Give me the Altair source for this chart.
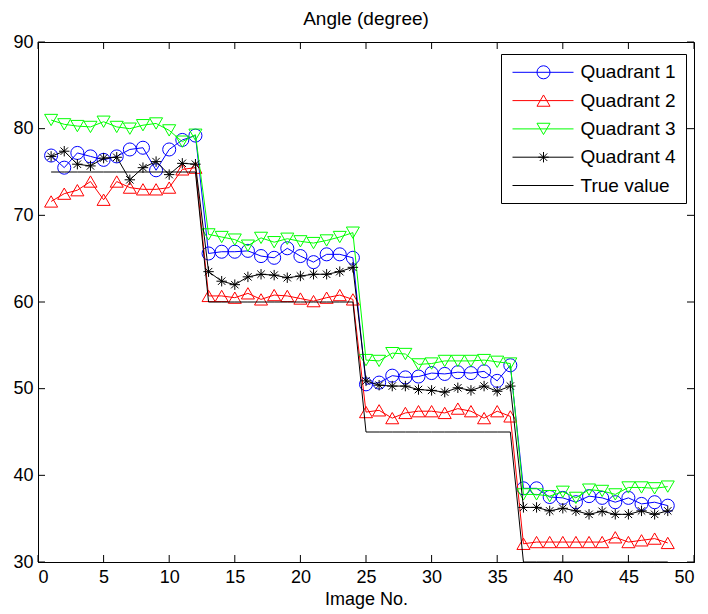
import altair as alt
import pandas as pd

image_no = list(range(1, 49))

quadrant_1 = [76.9, 75.5, 77.2, 76.8, 76.4, 76.8, 77.6, 77.8, 75.2, 77.6, 78.7, 79.2,
              65.6, 65.8, 65.8, 65.9, 65.3, 65.1, 66.2, 65.3, 64.6, 65.5, 65.5, 65.1,
              50.5, 50.7, 51.5, 51.3, 51.4, 51.8, 51.7, 51.9, 51.8, 52.0, 50.9, 52.7,
              38.5, 38.5, 37.5, 37.4, 36.9, 37.6, 37.4, 36.9, 37.4, 36.7, 36.9, 36.5]
quadrant_2 = [71.6, 72.5, 72.9, 73.9, 71.8, 73.9, 73.2, 73.0, 73.0, 73.2, 75.3, 75.5,
              60.7, 60.7, 60.5, 61.0, 60.3, 60.8, 60.7, 60.4, 60.1, 60.5, 60.8, 60.3,
              47.3, 47.5, 46.6, 47.2, 47.4, 47.4, 47.2, 47.7, 47.4, 46.6, 47.4, 46.8,
              32.1, 32.3, 32.3, 32.3, 32.3, 32.3, 32.3, 32.85, 32.3, 32.5, 32.7, 32.2]
quadrant_3 = [81.0, 80.5, 80.3, 80.2, 80.8, 80.2, 80.0, 80.4, 80.6, 79.8, 78.5, 79.3,
              67.8, 67.5, 67.2, 66.5, 67.4, 66.9, 67.3, 67.0, 66.8, 67.1, 67.5, 68.0,
              53.3, 53.2, 54.1, 54.0, 52.8, 52.9, 53.2, 53.2, 53.2, 53.3, 53.1, 52.9,
              37.8, 37.8, 37.6, 38.1, 37.4, 38.35, 38.2, 37.8, 38.6, 38.6, 38.5, 38.7]
quadrant_4 = [76.8, 77.4, 75.9, 75.7, 76.6, 76.7, 74.1, 75.5, 76.2, 74.7, 76.0, 75.9,
              63.5, 62.4, 62.0, 62.9, 63.2, 63.1, 62.8, 63.0, 63.2, 63.2, 63.5, 64.0,
              50.9, 50.4, 50.3, 50.3, 49.9, 49.8, 49.6, 50.1, 49.8, 50.3, 49.7, 50.3,
              36.3, 36.3, 35.9, 36.2, 35.9, 35.5, 35.85, 35.5, 35.5, 35.9, 35.5, 35.9]
true_value = [75, 75, 75, 75, 75, 75, 75, 75, 75, 75, 75, 75,
              60, 60, 60, 60, 60, 60, 60, 60, 60, 60, 60, 60,
              45, 45, 45, 45, 45, 45, 45, 45, 45, 45, 45, 45,
              30, 30, 30, 30, 30, 30, 30, 30, 30, 30, 30, 30]

series_names = ["Quadrant 1", "Quadrant 2", "Quadrant 3", "Quadrant 4", "True value"]
series_values = [quadrant_1, quadrant_2, quadrant_3, quadrant_4, true_value]
x_ticks = [0, 5, 10, 15, 20, 25, 30, 35, 40, 45, 50]
y_ticks = [30, 40, 50, 60, 70, 80, 90]

colors = ["#0000ff", "#ff0000", "#00ff00", "#000000", "#000000"]
ASTERISK = ("M-0.8,0L0.8,0M0,-0.8L0,0.8M-0.57,-0.57L0.57,0.57M-0.57,0.57L0.57,-0.57")
shapes = ["circle", "triangle-up", "triangle-down", ASTERISK]

FONT = "Liberation Sans"
W, H = 656, 520

rows = []
for name, vals in zip(series_names, series_values):
    for xi, yi in zip(image_no, vals):
        rows.append({"series": name, "x": xi, "y": yi})
df = pd.DataFrame(rows)

color_scale = alt.Scale(domain=series_names, range=colors)
shape_scale = alt.Scale(domain=series_names[:4], range=shapes)

x_enc = alt.X("x:Q", scale=alt.Scale(domain=[0, 50], nice=False),
              axis=alt.Axis(values=x_ticks, title="Image No.", format="d"))
y_enc = alt.Y("y:Q", scale=alt.Scale(domain=[30, 90], nice=False),
              axis=alt.Axis(values=y_ticks, title=None, format="d"))

layers = []
for name in series_names:
    sub = alt.Chart(df).transform_filter(alt.datum.series == name)
    layers.append(sub.mark_line(strokeWidth=1, clip=True).encode(
        x=x_enc, y=y_enc, color=alt.Color("series:N", scale=color_scale, legend=None),
        order="x:Q"))
    if name != "True value":
        layers.append(sub.mark_point(filled=False, size=170, strokeWidth=1, opacity=1, clip=True).encode(
            x=x_enc, y=y_enc,
            color=alt.Color("series:N", scale=color_scale, legend=None),
            shape=alt.Shape("series:N", scale=shape_scale, legend=None)))

# inward ticks (MATLAB style box)
xt = pd.DataFrame({"v": x_ticks})
yt = pd.DataFrame({"v": y_ticks})
layers.append(alt.Chart(xt).mark_rule(color="black", strokeWidth=1).encode(
    x=alt.X("v:Q"), y=alt.value(H), y2=alt.value(H - 7)))
layers.append(alt.Chart(xt).mark_rule(color="black", strokeWidth=1).encode(
    x=alt.X("v:Q"), y=alt.value(0), y2=alt.value(7)))
layers.append(alt.Chart(yt).mark_rule(color="black", strokeWidth=1).encode(
    y=alt.Y("v:Q"), x=alt.value(0), x2=alt.value(7)))
layers.append(alt.Chart(yt).mark_rule(color="black", strokeWidth=1).encode(
    y=alt.Y("v:Q"), x=alt.value(W), x2=alt.value(W - 7)))

# legend box
leg = pd.DataFrame({"series": series_names, "row": list(range(len(series_names)))})
box = alt.Chart(pd.DataFrame({"a": [0]})).mark_rect(fill="white", stroke="black", strokeWidth=1).encode(
    x=alt.value(463.5), x2=alt.value(648.5), y=alt.value(12.5), y2=alt.value(161.5))
legbase = alt.Chart(leg).transform_calculate(py="30.3 + datum.row * 28.3")
leg_lines = legbase.mark_rule(strokeWidth=1).encode(
    x=alt.value(474.5), x2=alt.value(535.5),
    y=alt.Y("py:Q", scale=None, axis=None),
    color=alt.Color("series:N", scale=color_scale, legend=None))
leg_points = legbase.transform_filter(alt.datum.series != "True value").mark_point(
    filled=False, size=170, strokeWidth=1, opacity=1).encode(
    x=alt.value(505.5),
    y=alt.Y("py:Q", scale=None, axis=None),
    color=alt.Color("series:N", scale=color_scale, legend=None),
    shape=alt.Shape("series:N", scale=shape_scale, legend=None))
leg_text = legbase.mark_text(align="left", baseline="middle", fontSize=19, font=FONT, color="black").encode(
    x=alt.value(542.5),
    y=alt.Y("py:Q", scale=None, axis=None),
    text="series:N")
layers += [box, leg_lines, leg_points, leg_text]

chart = alt.layer(*layers).properties(
    width=W, height=H,
    title=alt.TitleParams("Angle (degree)", fontSize=19, font=FONT, fontWeight="normal",
                          color="black", offset=4),
    autosize=alt.AutoSizeParams(type="none"),
    padding={"left": 38, "top": 42, "right": 14, "bottom": 52},
    background="white",
).configure_view(stroke="black", strokeWidth=1).configure_axis(
    domain=True, domainColor="black", domainWidth=1, ticks=False, grid=False,
    labelFont=FONT, labelFontSize=18, labelColor="black", labelPadding=6,
    titleFont=FONT, titleFontSize=18, titleFontWeight="normal", titleColor="black",
    titlePadding=4,
).configure_axisY(labelPadding=5)

chart.save("out.html", embed_options={"renderer": "svg", "actions": False})
